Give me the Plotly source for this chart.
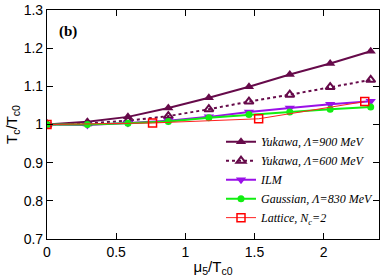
import plotly.graph_objects as go

x_models = [0, 0.292, 0.585, 0.877, 1.17, 1.46, 1.755, 2.047, 2.34]
yuk900 = [1.0, 1.007, 1.02, 1.043, 1.07, 1.099, 1.131, 1.16, 1.192]
yuk600 = [1.0, 1.003, 1.01, 1.022, 1.04, 1.06, 1.078, 1.098, 1.117]
ilm = [1.0, 0.999, 1.004, 1.01, 1.02, 1.033, 1.043, 1.053, 1.061]
gauss = [1.0, 1.0, 1.003, 1.008, 1.018, 1.026, 1.033, 1.04, 1.046]
x_lat = [0, 0.763, 1.53, 2.297]
lattice = [1.0, 1.004, 1.015, 1.06]

x_ticks = [0, 0.5, 1, 1.5, 2]
y_ticks = [0.7, 0.8, 0.9, 1.0, 1.1, 1.2, 1.3]

maroon = "#660a4a"
fig = go.Figure()
fig.add_trace(go.Scatter(x=x_models, y=yuk900, mode="lines+markers",
    name="<i>Yukawa, Λ=900 MeV</i>",
    line=dict(color=maroon, width=2),
    marker=dict(symbol="triangle-up", size=9, color=maroon)))
fig.add_trace(go.Scatter(x=x_models, y=yuk600, mode="lines+markers",
    name="<i>Yukawa, Λ=600 MeV</i>",
    line=dict(color=maroon, width=2, dash="dot"),
    marker=dict(symbol="triangle-up-open", size=8, color=maroon, line=dict(width=2))))
fig.add_trace(go.Scatter(x=x_models, y=ilm, mode="lines+markers",
    name="<i>ILM</i>",
    line=dict(color="#9a10e8", width=2),
    marker=dict(symbol="triangle-down", size=9, color="#9a10e8")))
fig.add_trace(go.Scatter(x=x_models, y=gauss, mode="lines+markers",
    name="<i>Gaussian, Λ=830 MeV</i>",
    line=dict(color="#11ee11", width=2),
    marker=dict(symbol="circle", size=7, color="#11ee11")))
fig.add_trace(go.Scatter(x=x_lat, y=lattice, mode="lines+markers",
    name="<i>Lattice, N<sub>c</sub>=2</i>",
    line=dict(color="#ff2020", width=1),
    marker=dict(symbol="square-open", size=8, color="#ff0000", line=dict(width=1.5))))

axis_common = dict(showline=True, linecolor="black", linewidth=1.2, mirror="ticks",
                   ticks="inside", ticklen=6, tickcolor="black", showgrid=False,
                   zeroline=False, ticklabeloverflow="allow",
                   tickfont=dict(family="Liberation Sans, Arial", size=14, color="black"))

fig.update_layout(
    width=382, height=278,
    margin=dict(l=47, r=2, t=7, b=39),
    plot_bgcolor="white", paper_bgcolor="white",
    font=dict(family="Liberation Serif, Times New Roman", color="black"),
    xaxis=dict(range=[0, 2.4], tickvals=x_ticks, ticktext=["0", "0.5", "1", "1.5", "2"],
               title=dict(text="μ<sub>5</sub>/T<sub>c0</sub>", standoff=2,
                          font=dict(family="Liberation Sans, Arial", size=15)),
               **axis_common),
    yaxis=dict(range=[0.7, 1.3], tickvals=y_ticks,
               ticktext=["0.7", "0.8", "0.9", "1", "1.1", "1.2", "1.3"],
               title=dict(text="T<sub>c</sub>/T<sub>c0</sub>", standoff=2,
                          font=dict(family="Liberation Sans, Arial", size=15)),
               **axis_common),
    legend=dict(x=1.0, y=0.03, xanchor="right", yanchor="bottom",
                bgcolor="rgba(0,0,0,0)", font=dict(family="Liberation Serif, Times New Roman", size=12),
                tracegroupgap=0, itemwidth=30),
    annotations=[dict(text="<b>(b)</b>", x=0.03, y=0.95, xref="paper", yref="paper",
                      xanchor="left", yanchor="top", showarrow=False,
                      font=dict(family="Liberation Serif, Times New Roman", size=15))],
)

fig.write_html("out.html", config={"displayModeBar": False},
               post_script="document.body.style.margin='0';document.body.style.overflow='hidden';")
